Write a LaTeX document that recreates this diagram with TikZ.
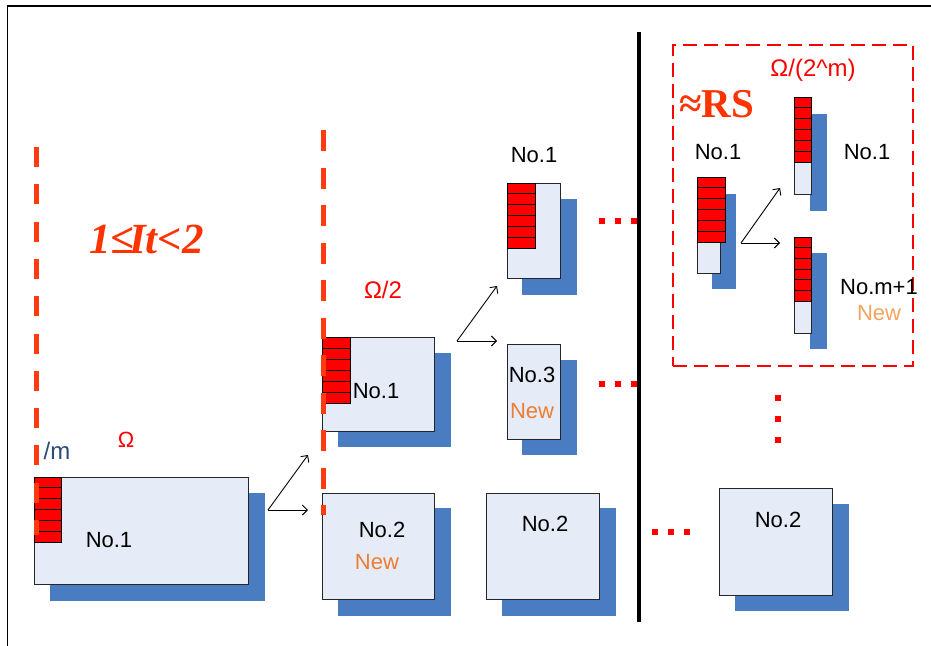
\documentclass[tikz,border=0pt]{standalone}
\usepackage{fontspec}
\setmainfont{Liberation Sans}
\newfontfamily\seriff{Liberation Serif}
\usetikzlibrary{arrows.meta}
\definecolor{boxfill}{HTML}{E6ECF7}
\definecolor{shadowblue}{HTML}{4A7CC1}
\definecolor{dashorange}{HTML}{FF3B0F}
\definecolor{neworange}{HTML}{ED7D31}
\definecolor{newlight}{HTML}{F4A460}
\definecolor{mblue}{HTML}{2B4B7C}
\definecolor{titlered}{HTML}{FF3300}
\begin{document}
\begin{tikzpicture}[x=1pt,y=-1pt,
  box/.style={draw=black!85, fill=boxfill, line width=0.9pt, inner sep=0pt, outer sep=0pt, anchor=north west},
  shadowbox/.style={fill=shadowblue, draw=none, inner sep=0pt, outer sep=0pt, anchor=north west},
  cell/.style={draw=black, fill=red, line width=0.9pt},
  lbl/.style={inner sep=0pt, font=\fontsize{22}{26}\selectfont},
  conn/.style={line width=0.9pt, -{Straight Barb[length=5pt,width=10pt]}},
  dot/.style={fill=red, draw=none},
  orangedash/.style={dashorange, line width=5pt},
]
\useasboundingbox (0,0) rectangle (931,645);
\fill[white] (0,0) rectangle (931,645);
% frame
\draw[line width=1.3pt] (7.5,660) -- (7.5,6) -- (945,6);

% big No.1
\node[shadowbox, minimum width=215pt, minimum height=108pt] (s1) at (50,493) {};
\node[box, minimum width=214pt, minimum height=107pt] (b1) at (34,477) {};
\foreach \i in {0,...,5} \draw[cell] (34,{477+\i*10.83}) rectangle ++(27,10.83);
\node[lbl] (t1) at (109,540) {No.1};
\node[lbl, mblue, font=\fontsize{24}{28}\selectfont] (tm) at (57,451) {/m};
\node[lbl, red] (tom) at (126,440) {Ω};
\node[inner sep=0pt, anchor=base west, titlered, font=\seriff\bfseries\itshape\fontsize{43}{48}\selectfont] (tdt) at (89,253) {1≤\kern-0.12emIt<2};

% column 2
\node[shadowbox, minimum width=113pt, minimum height=94pt] (s2) at (338,353) {};
\node[box, minimum width=112pt, minimum height=94pt] (b2) at (322,337) {};
\foreach \i in {0,...,5} \draw[cell] (322,{337+\i*11}) rectangle ++(28,11);
\node[lbl] (t2) at (376,391) {No.1};
\node[lbl, red, font=\fontsize{24}{28}\selectfont] (tom2) at (383,290) {Ω/2};

\node[shadowbox, minimum width=113pt, minimum height=108pt] (s3) at (338,508) {};
\node[box, minimum width=112pt, minimum height=106pt] (b3) at (322,493) {};
\node[lbl] (t3) at (382,530) {No.2};
\node[lbl, neworange] (n3) at (377,562) {New};

% column 3
\node[shadowbox, minimum width=55pt, minimum height=96pt] (s4) at (522,199) {};
\node[box, minimum width=53pt, minimum height=95pt] (b4) at (507,183) {};
\foreach \i in {0,...,5} \draw[cell] (507,{183+\i*10.83}) rectangle ++(28,10.83);
\node[lbl] (t4) at (534,155) {No.1};

\node[shadowbox, minimum width=55pt, minimum height=95pt] (s5) at (522,360) {};
\node[box, minimum width=53pt, minimum height=95pt] (b5) at (507,344) {};
\node[lbl] (t5) at (532,375) {No.3};
\node[lbl, neworange] (n5) at (532,411) {New};

\node[shadowbox, minimum width=114pt, minimum height=108pt] (s6) at (502,508) {};
\node[box, minimum width=113pt, minimum height=106pt] (b6) at (486,493) {};
\node[lbl] (t6) at (545,524) {No.2};

% right column
\node[shadowbox, minimum width=114pt, minimum height=107pt] (s7) at (735,504) {};
\node[box, minimum width=113pt, minimum height=107pt] (b7) at (719,488) {};
\node[lbl] (t7) at (778,520) {No.2};

% RS box
\node[draw=red, line width=1.8pt, dash pattern=on 14pt off 7pt, inner sep=0pt, anchor=north west, minimum width=240pt, minimum height=321pt] (rs) at (672,44) {};
\node[lbl, red, font=\fontsize{24}{28}\selectfont] (tom3) at (813,70) {Ω/(2\^{}m)};
\node[inner sep=0pt, anchor=base west, titlered, font=\seriff\bfseries\fontsize{41}{46}\selectfont] (trs) at (679,117) {≈RS};

\node[shadowbox, minimum width=24pt, minimum height=95pt] (s8) at (712,194) {};
\node[box, minimum width=23pt, minimum height=96pt] (b8) at (697,177) {};
\foreach \i in {0,...,5} \draw[cell] (697,{177+\i*10.83}) rectangle ++(28,10.83);
\node[lbl] (t8) at (718,152) {No.1};

\node[shadowbox, minimum width=17pt, minimum height=97pt] (s9) at (810,114) {};
\node[box, minimum width=17pt, minimum height=97pt] (b9) at (794,97) {};
\foreach \i in {0,...,5} \draw[cell] (794,{97+\i*10.83}) rectangle ++(17,10.83);
\node[lbl] (t9) at (867,152) {No.1};

\node[shadowbox, minimum width=17pt, minimum height=96pt] (s10) at (810,253) {};
\node[box, minimum width=17pt, minimum height=96pt] (b10) at (794,237) {};
\foreach \i in {0,...,5} \draw[cell] (794,{237+\i*10.67}) rectangle ++(17,10.67);
\node[lbl] (t10) at (879,287) {No.m+1};
\node[lbl, newlight] (n10) at (879,313) {New};

% arrows
\coordinate (a1o) at (268,510); \coordinate (a1u) at (308,455); \coordinate (a1r) at (308,510);
\coordinate (a2o) at (457,341); \coordinate (a2u) at (497,286); \coordinate (a2r) at (497,341);
\coordinate (a3o) at (741,243); \coordinate (a3u) at (780,188); \coordinate (a3r) at (780,243);
\draw[conn] (a1o) -- (a1u); \draw[conn] (a1o) -- (a1r);
\draw[conn] (a2o) -- (a2u); \draw[conn] (a2o) -- (a2r);
\draw[conn] (a3o) -- (a3u); \draw[conn] (a3o) -- (a3r);

% red dots
\foreach \x in {599,615,631} {
  \fill[dot] (\x,218) rectangle ++(6,6);
  \fill[dot] (\x,381) rectangle ++(6,6);
}
\foreach \x in {652,668,684} \fill[dot] (\x,529) rectangle ++(6,6);
\foreach \y in {395,416,437} \fill[dot] (775,\y) rectangle ++(6,6);

% black separator
\draw[line width=4pt] (639,32) -- (639,622);

% orange dashed lines
\draw[orangedash, dash pattern=on 20pt off 17.3pt] (36,147) -- (36,535);
\draw[orangedash, dash pattern=on 21pt off 16.5pt] (323,130) -- (323,515);
\end{tikzpicture}
\end{document}
